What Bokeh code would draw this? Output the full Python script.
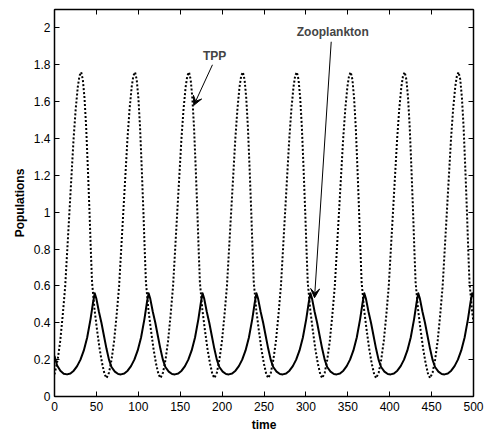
from bokeh.plotting import figure
from bokeh.models import Range1d, LinearAxis, FixedTicker, Arrow, VeeHead, Label
from bokeh.embed import file_html
from bokeh.resources import INLINE

# ---------------- data ----------------
x_ticks = [0, 50, 100, 150, 200, 250, 300, 350, 400, 450, 500]
y_ticks = [0, 0.2, 0.4, 0.6, 0.8, 1, 1.2, 1.4, 1.6, 1.8, 2]
y_tick_labels = ["0", "0.2", "0.4", "0.6", "0.8", "1", "1.2", "1.4", "1.6", "1.8", "2"]

# Zooplankton (solid)
zoo_t = [
    0, 3, 7, 11,
    15, 19, 23, 27, 31, 35, 39, 43, 46, 48, 50, 53, 56, 59, 62, 65, 68, 72, 76,
    79.3, 83.3, 87.3, 91.3, 95.3, 99.3, 103.3, 107.3, 110.3, 112.3, 114.3, 117.3, 120.3, 123.3, 126.3, 129.3, 132.3, 136.3, 140.3,
    143.7, 147.7, 151.7, 155.7, 159.7, 163.7, 167.7, 171.7, 174.7, 176.7, 178.7, 181.7, 184.7, 187.7, 190.7, 193.7, 196.7, 200.7, 204.7,
    208, 212, 216, 220, 224, 228, 232, 236, 239, 241, 243, 246, 249, 252, 255, 258, 261, 265, 269,
    272.4, 276.4, 280.4, 284.4, 288.4, 292.4, 296.4, 300.4, 303.4, 305.4, 307.4, 310.4, 313.4, 316.4, 319.4, 322.4, 325.4, 329.4, 333.4,
    336.7, 340.7, 344.7, 348.7, 352.7, 356.7, 360.7, 364.7, 367.7, 369.7, 371.7, 374.7, 377.7, 380.7, 383.7, 386.7, 389.7, 393.7, 397.7,
    401.1, 405.1, 409.1, 413.1, 417.1, 421.1, 425.1, 429.1, 432.1, 434.1, 436.1, 439.1, 442.1, 445.1, 448.1, 451.1, 454.1, 458.1, 462.1,
    465.4, 469.4, 473.4, 477.4, 481.4, 485.4, 489.4, 493.4, 496.4, 498.4, 500,
]
zoo_y = [
    0.22, 0.17, 0.14, 0.124,
    0.12, 0.125, 0.14, 0.165, 0.20, 0.25, 0.32, 0.42, 0.51, 0.56, 0.53, 0.46, 0.40, 0.33, 0.26, 0.20, 0.16, 0.135, 0.122,
    0.12, 0.125, 0.14, 0.165, 0.20, 0.25, 0.32, 0.42, 0.51, 0.56, 0.53, 0.46, 0.40, 0.33, 0.26, 0.20, 0.16, 0.135, 0.122,
    0.12, 0.125, 0.14, 0.165, 0.20, 0.25, 0.32, 0.42, 0.51, 0.56, 0.53, 0.46, 0.40, 0.33, 0.26, 0.20, 0.16, 0.135, 0.122,
    0.12, 0.125, 0.14, 0.165, 0.20, 0.25, 0.32, 0.42, 0.51, 0.56, 0.53, 0.46, 0.40, 0.33, 0.26, 0.20, 0.16, 0.135, 0.122,
    0.12, 0.125, 0.14, 0.165, 0.20, 0.25, 0.32, 0.42, 0.51, 0.56, 0.53, 0.46, 0.40, 0.33, 0.26, 0.20, 0.16, 0.135, 0.122,
    0.12, 0.125, 0.14, 0.165, 0.20, 0.25, 0.32, 0.42, 0.51, 0.56, 0.53, 0.46, 0.40, 0.33, 0.26, 0.20, 0.16, 0.135, 0.122,
    0.12, 0.125, 0.14, 0.165, 0.20, 0.25, 0.32, 0.42, 0.51, 0.56, 0.53, 0.46, 0.40, 0.33, 0.26, 0.20, 0.16, 0.135, 0.122,
    0.12, 0.125, 0.14, 0.165, 0.20, 0.25, 0.32, 0.42, 0.51, 0.56, 0.54,
]

# TPP (dotted)
tpp_t = [
    0, 3.8, 6.8, 9.8, 12.8, 15.3, 17.8, 20.3, 22.8, 25.3, 27.8, 29.8, 31.8, 33.8, 35.8, 37.8, 39.8, 41.8, 43.3, 44.8, 47.8, 50.8, 53.8, 56.8, 59.8,
    62.1, 65.1, 68.1, 71.1, 74.1, 77.1, 79.6, 82.1, 84.6, 87.1, 89.6, 92.1, 94.1, 96.1, 98.1, 100.1, 102.1, 104.1, 106.1, 107.6, 109.1, 112.1, 115.1, 118.1, 121.1, 124.1,
    126.5, 129.5, 132.5, 135.5, 138.5, 141.5, 144, 146.5, 149, 151.5, 154, 156.5, 158.5, 160.5, 162.5, 164.5, 166.5, 168.5, 170.5, 172, 173.5, 176.5, 179.5, 182.5, 185.5, 188.5,
    190.8, 193.8, 196.8, 199.8, 202.8, 205.8, 208.3, 210.8, 213.3, 215.8, 218.3, 220.8, 222.8, 224.8, 226.8, 228.8, 230.8, 232.8, 234.8, 236.3, 237.8, 240.8, 243.8, 246.8, 249.8, 252.8,
    255.2, 258.2, 261.2, 264.2, 267.2, 270.2, 272.7, 275.2, 277.7, 280.2, 282.7, 285.2, 287.2, 289.2, 291.2, 293.2, 295.2, 297.2, 299.2, 300.7, 302.2, 305.2, 308.2, 311.2, 314.2, 317.2,
    319.5, 322.5, 325.5, 328.5, 331.5, 334.5, 337, 339.5, 342, 344.5, 347, 349.5, 351.5, 353.5, 355.5, 357.5, 359.5, 361.5, 363.5, 365, 366.5, 369.5, 372.5, 375.5, 378.5, 381.5,
    383.9, 386.9, 389.9, 392.9, 395.9, 398.9, 401.4, 403.9, 406.4, 408.9, 411.4, 413.9, 415.9, 417.9, 419.9, 421.9, 423.9, 425.9, 427.9, 429.4, 430.9, 433.9, 436.9, 439.9, 442.9, 445.9,
    448.2, 451.2, 454.2, 457.2, 460.2, 463.2, 465.7, 468.2, 470.7, 473.2, 475.7, 478.2, 480.2, 482.2, 484.2, 486.2, 488.2, 490.2, 492.2, 493.7, 495.2, 498.2, 500,
]
tpp_y = [
    0.12, 0.20, 0.30, 0.44, 0.60, 0.80, 1.00, 1.20, 1.40, 1.56, 1.68, 1.74, 1.76, 1.72, 1.62, 1.46, 1.24, 1.00, 0.80, 0.62, 0.47, 0.36, 0.26, 0.18, 0.12,
    0.10, 0.13, 0.20, 0.30, 0.44, 0.60, 0.80, 1.00, 1.20, 1.40, 1.56, 1.68, 1.74, 1.76, 1.72, 1.62, 1.46, 1.24, 1.00, 0.80, 0.62, 0.47, 0.36, 0.26, 0.18, 0.12,
    0.10, 0.13, 0.20, 0.30, 0.44, 0.60, 0.80, 1.00, 1.20, 1.40, 1.56, 1.68, 1.74, 1.76, 1.72, 1.62, 1.46, 1.24, 1.00, 0.80, 0.62, 0.47, 0.36, 0.26, 0.18, 0.12,
    0.10, 0.13, 0.20, 0.30, 0.44, 0.60, 0.80, 1.00, 1.20, 1.40, 1.56, 1.68, 1.74, 1.76, 1.72, 1.62, 1.46, 1.24, 1.00, 0.80, 0.62, 0.47, 0.36, 0.26, 0.18, 0.12,
    0.10, 0.13, 0.20, 0.30, 0.44, 0.60, 0.80, 1.00, 1.20, 1.40, 1.56, 1.68, 1.74, 1.76, 1.72, 1.62, 1.46, 1.24, 1.00, 0.80, 0.62, 0.47, 0.36, 0.26, 0.18, 0.12,
    0.10, 0.13, 0.20, 0.30, 0.44, 0.60, 0.80, 1.00, 1.20, 1.40, 1.56, 1.68, 1.74, 1.76, 1.72, 1.62, 1.46, 1.24, 1.00, 0.80, 0.62, 0.47, 0.36, 0.26, 0.18, 0.12,
    0.10, 0.13, 0.20, 0.30, 0.44, 0.60, 0.80, 1.00, 1.20, 1.40, 1.56, 1.68, 1.74, 1.76, 1.72, 1.62, 1.46, 1.24, 1.00, 0.80, 0.62, 0.47, 0.36, 0.26, 0.18, 0.12,
    0.10, 0.13, 0.20, 0.30, 0.44, 0.60, 0.80, 1.00, 1.20, 1.40, 1.56, 1.68, 1.74, 1.76, 1.72, 1.62, 1.46, 1.24, 1.00, 0.80, 0.62, 0.47, 0.40,
]

# ---------------- figure ----------------
FONT = "Liberation Sans"

p = figure(
    frame_width=419, frame_height=387,
    x_range=Range1d(0, 500), y_range=Range1d(0, 2.1),
    output_backend="svg", toolbar_location=None,
    min_border_left=54, min_border_right=12, min_border_top=9, min_border_bottom=36,
    x_axis_label="time", y_axis_label="Populations",
)
p.background_fill_color = "white"
p.border_fill_color = "white"
p.outline_line_color = "black"
p.outline_line_width = 1
p.grid.visible = False

for ax in (p.xaxis[0], p.yaxis[0]):
    ax.axis_line_width = 1.5
    ax.axis_line_color = "black"
    ax.major_tick_in = 5
    ax.major_tick_out = 0
    ax.minor_tick_line_color = None
    ax.major_tick_line_color = "black"
    ax.major_label_text_font = FONT
    ax.major_label_text_font_size = "12px"
    ax.major_label_text_color = "black"
    ax.axis_label_text_font = FONT
    ax.axis_label_text_font_size = "12px"
    ax.axis_label_text_font_style = "bold"
    ax.axis_label_text_color = "black"

p.xaxis[0].ticker = FixedTicker(ticks=x_ticks)
p.yaxis[0].ticker = FixedTicker(ticks=y_ticks)
p.yaxis[0].major_label_overrides = {t: s for t, s in zip(y_ticks, y_tick_labels)}
p.xaxis[0].major_label_standoff = 5
p.xaxis[0].axis_label_standoff = 4
p.yaxis[0].major_label_standoff = 4
p.yaxis[0].axis_label_standoff = 4

top = LinearAxis(ticker=FixedTicker(ticks=x_ticks), major_label_text_font_size="0px",
                 major_label_text_color=None,
                 major_label_standoff=0, major_tick_in=5, major_tick_out=0,
                 minor_tick_line_color=None, axis_line_width=1.5)
right = LinearAxis(ticker=FixedTicker(ticks=y_ticks), major_label_text_font_size="0px",
                   major_label_text_color=None,
                   major_label_standoff=0, major_tick_in=5, major_tick_out=0,
                   minor_tick_line_color=None, axis_line_width=1.5)
p.add_layout(top, "above")
p.add_layout(right, "right")

p.line(tpp_t, tpp_y, line_color="black", line_width=2, line_dash="2 2")
p.line(zoo_t, zoo_y, line_color="black", line_width=2, line_join="round")

# annotations
p.add_layout(Label(x=191, y=1.85, text="TPP", text_font=FONT, text_font_size="12px",
                   text_font_style="bold", text_align="center", text_baseline="middle"))
p.add_layout(Arrow(x_start=188.5, y_start=1.80, x_end=166.2, y_end=1.58, line_width=1,
                   end=VeeHead(size=9, fill_color="black", line_color="black", line_width=1)))
p.add_layout(Label(x=332, y=1.98, text="Zooplankton", text_font=FONT, text_font_size="12px",
                   text_font_style="bold", text_align="center", text_baseline="middle"))
p.add_layout(Arrow(x_start=330.2, y_start=1.925, x_end=310.3, y_end=0.536, line_width=1,
                   end=VeeHead(size=9, fill_color="black", line_color="black", line_width=1)))

open("out.html", "w").write(file_html(p, INLINE))
